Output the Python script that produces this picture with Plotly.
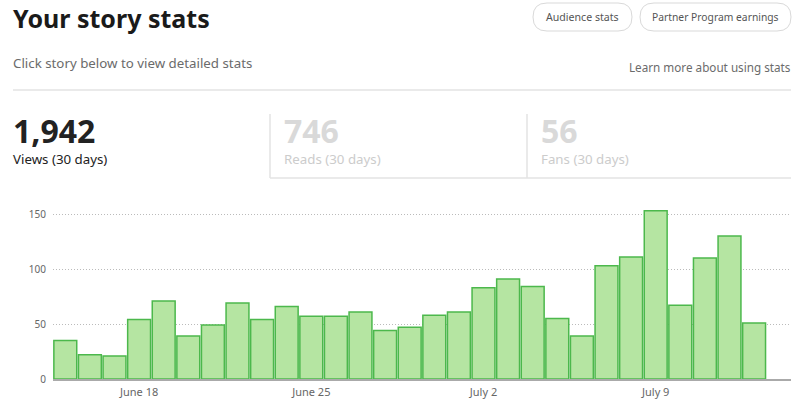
import plotly.graph_objects as go

# ---- data ----
days = ["June 15", "June 16", "June 17", "June 18", "June 19", "June 20", "June 21",
        "June 22", "June 23", "June 24", "June 25", "June 26", "June 27", "June 28",
        "June 29", "June 30", "July 1", "July 2", "July 3", "July 4", "July 5",
        "July 6", "July 7", "July 8", "July 9", "July 10", "July 11", "July 12",
        "July 13", "July 14"]
views = [35, 22, 21, 54, 71, 39, 49, 69, 54, 66, 57, 57, 61, 44, 47, 58, 61, 83,
         91, 84, 55, 39, 103, 111, 153, 67, 110, 130, 51, None]
tick_days = ["June 18", "June 25", "July 2", "July 9"]
y_ticks = [0, 50, 100, 150]

stat_values = ["1,942", "746", "56"]
stat_labels = ["Views (30 days)", "Reads (30 days)", "Fans (30 days)"]

W, H = 800, 407
FONT = "Noto Sans"


def px(x):
    return x / W


def py(y):
    return 1 - y / H


idx = list(range(len(days)))
fig = go.Figure()
fig.add_trace(go.Bar(
    x=idx, y=views,
    marker=dict(color="#b5e5a2", line=dict(color="#4cb84c", width=1.5)),
    width=0.93, hoverinfo="skip",
))

y_top = 165
y0_px, unit = 379, 1.1
fig.update_layout(
    width=W, height=H,
    margin=dict(l=0, r=0, t=0, b=0, autoexpand=False),
    paper_bgcolor="white", plot_bgcolor="white",
    showlegend=False,
    font=dict(family=FONT, color="#666"),
    xaxis=dict(
        domain=[px(53), px(791)], range=[-0.5, len(days) - 0.5], automargin=False,
        tickvals=[days.index(d) for d in tick_days], ticktext=tick_days,
        showgrid=False, zeroline=False, showline=True, linecolor="#aaa", linewidth=2,
        ticks="", tickfont=dict(size=11, color="#666"), ticklabelstandoff=2,
    ),
    yaxis=dict(
        domain=[py(y0_px), py(y0_px - y_top * unit)], range=[0, y_top], automargin=False,
        tickvals=y_ticks, showgrid=True, gridcolor="#bbbbbb", griddash="1px,2px",
        gridwidth=1, zeroline=False, ticks="", tickfont=dict(size=10, color="#666"),
        ticklabelstandoff=6,
    ),
)

ann = []


def text(x, y, s, size, color, anchor="left", bold=False):
    ann.append(dict(x=px(x), y=py(y), xref="paper", yref="paper", text=(f"<b>{s}</b>" if bold else s),
                    showarrow=False, xanchor=anchor, yanchor="middle",
                    font=dict(size=size, color=color, family=FONT)))


text(11, 18, "Your story stats", 25, "#1a1a1a", bold=True)
text(11, 63, "Click story below to view detailed stats", 13.3, "#6b6b6b")
text(793, 67, "Learn more about using stats", 11.7, "#6b6b6b", anchor="right")

# pills
shapes = []


def pill(x0, x1, y0, y1):
    r = (y1 - y0) / 2
    p = (f"M {px(x0 + r)},{py(y0)} L {px(x1 - r)},{py(y0)} "
         f"Q {px(x1)},{py(y0)} {px(x1)},{py(y0 + r)} "
         f"Q {px(x1)},{py(y1)} {px(x1 - r)},{py(y1)} "
         f"L {px(x0 + r)},{py(y1)} "
         f"Q {px(x0)},{py(y1)} {px(x0)},{py(y0 + r)} "
         f"Q {px(x0)},{py(y0)} {px(x0 + r)},{py(y0)} Z")
    shapes.append(dict(type="path", path=p, xref="paper", yref="paper",
                       line=dict(color="#d9d9d9", width=1)))


pill(533, 632, 3, 31)
pill(640, 791, 3, 31)
text(582.5, 17, "Audience stats", 10.6, "#555", anchor="center")
text(715.5, 17, "Partner Program earnings", 10.3, "#555", anchor="center")


def line(x0, y0, x1, y1, color="#e3e3e3"):
    shapes.append(dict(type="line", xref="paper", yref="paper",
                       x0=px(x0), y0=py(y0), x1=px(x1), y1=py(y1),
                       line=dict(color=color, width=1.5)))


line(13, 90, 791, 90)
line(270, 114, 270, 178)
line(527, 114, 527, 178)
line(270, 178, 791, 178)

stat_x = [11, 282, 539]
val_colors = ["#222", "#d9d9d9", "#d9d9d9"]
lab_colors = ["#222", "#cccccc", "#cccccc"]
for sx, v, l, vc, lc in zip(stat_x, stat_values, stat_labels, val_colors, lab_colors):
    text(sx, 130, v, 32, vc, bold=True)
    text(sx, 159, l, 13.3, lc)

fig.update_layout(annotations=ann, shapes=shapes)
fig.write_html("out.html")
